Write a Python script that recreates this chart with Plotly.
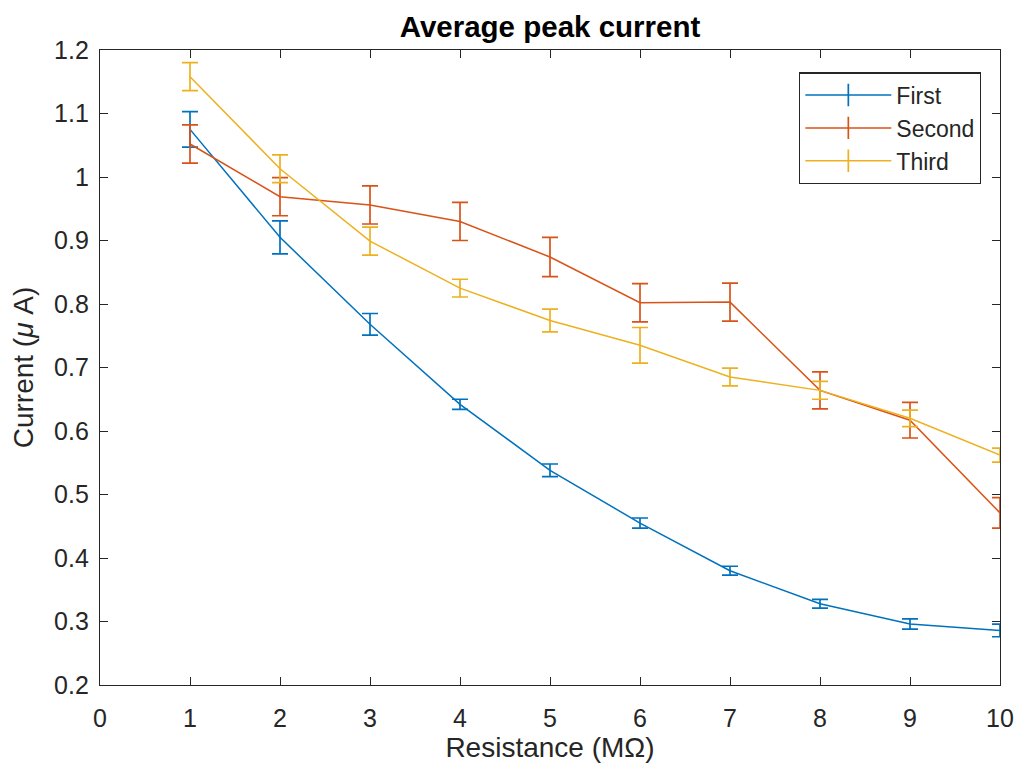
import plotly.graph_objects as go

# Resistance values (MΩ)
resistance = [1, 2, 3, 4, 5, 6, 7, 8, 9, 10]

# Average peak current (µA) and error for each run
first_mean = [1.075, 0.905, 0.768, 0.642, 0.538, 0.455, 0.380, 0.328, 0.296, 0.286]
first_err = [0.028, 0.026, 0.017, 0.008, 0.010, 0.008, 0.007, 0.007, 0.008, 0.010]

second_mean = [1.052, 0.969, 0.956, 0.930, 0.874, 0.802, 0.803, 0.664, 0.617, 0.471]
second_err = [0.030, 0.030, 0.030, 0.030, 0.031, 0.030, 0.030, 0.029, 0.028, 0.024]

third_mean = [1.158, 1.013, 0.899, 0.825, 0.774, 0.735, 0.685, 0.664, 0.620, 0.562]
third_err = [0.022, 0.022, 0.022, 0.014, 0.018, 0.028, 0.014, 0.014, 0.013, 0.011]

series_names = ["First", "Second", "Third"]
series_colors = ["#0072BD", "#D95319", "#EDB120"]

x_ticks = [0, 1, 2, 3, 4, 5, 6, 7, 8, 9, 10]
y_ticks = [0.2, 0.3, 0.4, 0.5, 0.6, 0.7, 0.8, 0.9, 1.0, 1.1, 1.2]
y_tick_labels = ["0.2", "0.3", "0.4", "0.5", "0.6", "0.7", "0.8", "0.9", "1", "1.1", "1.2"]

AX = "#262626"
FONT = "Liberation Sans, Arial, Helvetica, sans-serif"
TICK_SIZE = 25
LABEL_SIZE = 28

fig = go.Figure()

for name, color, mean, err in zip(
    series_names,
    series_colors,
    [first_mean, second_mean, third_mean],
    [first_err, second_err, third_err],
):
    fig.add_trace(go.Scatter(
        x=resistance, y=mean, mode="lines", name=name, showlegend=False,
        line=dict(color=color, width=1.5),
        error_y=dict(type="data", array=err, visible=True,
                     color=color, thickness=1.7, width=8),
    ))
    # legend entry: line with a vertical error-bar glyph
    fig.add_trace(go.Scatter(
        x=[None], y=[None], mode="lines+markers", name=name,
        line=dict(color=color, width=1.5),
        marker=dict(symbol="line-ns-open", size=26,
                    line=dict(color=color, width=1.7)),
    ))

fig.update_layout(
    width=1021, height=771,
    margin=dict(l=100, r=21, t=50, b=86),
    paper_bgcolor="white", plot_bgcolor="white",
    font=dict(family=FONT, color=AX, size=TICK_SIZE),
    title=dict(text="<b>Average peak current</b>", x=0.5, xref="paper",
               xanchor="center", y=0.966, yanchor="middle",
               font=dict(size=29.5, color="black", family=FONT)),
    legend=dict(x=0.7767, y=0.965, xanchor="left", yanchor="top",
                bgcolor="white", bordercolor=AX, borderwidth=1.3,
                font=dict(size=23, color=AX, family=FONT),
                itemwidth=86, tracegroupgap=0),
    showlegend=True,
)

fig.update_xaxes(
    range=[0, 10], tickvals=x_ticks, ticktext=[str(v) for v in x_ticks],
    showgrid=False, zeroline=False, showline=True, linecolor=AX, linewidth=1.3,
    mirror="ticks", ticks="inside", ticklen=8, tickwidth=1.3, tickcolor=AX,
    tickfont=dict(size=TICK_SIZE, color=AX), ticklabelstandoff=11,
    automargin=False,
    title=dict(text="Resistance (MΩ)", font=dict(size=LABEL_SIZE, color=AX), standoff=6),
)
fig.update_yaxes(
    range=[0.2, 1.2], tickvals=y_ticks, ticktext=y_tick_labels,
    showgrid=False, zeroline=False, showline=True, linecolor=AX, linewidth=1.3,
    mirror="ticks", ticks="inside", ticklen=8, tickwidth=1.3, tickcolor=AX,
    tickfont=dict(size=TICK_SIZE, color=AX), ticklabelstandoff=5,
    automargin=False,
    title=dict(text="Current (<i>μ</i> A)", font=dict(size=LABEL_SIZE, color=AX), standoff=12),
)

fig.write_html("out.html")
